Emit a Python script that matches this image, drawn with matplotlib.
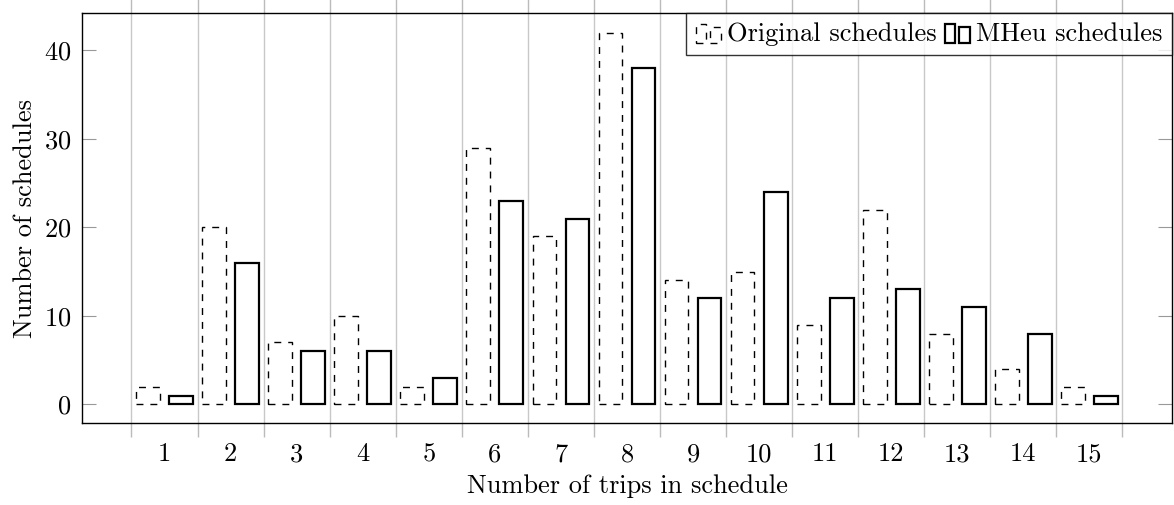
import matplotlib
matplotlib.use('Agg')
import matplotlib.pyplot as plt
import matplotlib.patches as mpatches
from matplotlib.legend_handler import HandlerBase
import numpy as np

trips = list(range(1, 16))
original = [2, 20, 7, 10, 2, 29, 19, 42, 14, 15, 9, 22, 8, 4, 2]
mheu = [1, 16, 6, 6, 3, 23, 21, 38, 12, 24, 12, 13, 11, 8, 1]

plt.rcParams['font.family'] = 'serif'
plt.rcParams['font.serif'] = ['cmr10']
plt.rcParams['axes.formatter.use_mathtext'] = True
plt.rcParams['font.size'] = 19


class BarGlyph(HandlerBase):
    # pgfplots style legend image: two small bars
    def create_artists(self, legend, orig, xd, yd, w, h, fontsize, trans):
        ls = orig.get_linestyle()
        lw = orig.get_linewidth()
        bw = w * 0.4
        a = mpatches.Rectangle((xd, yd - h * 0.1), bw, h * 1.05, fill=False, ec='black',
                               ls=ls, lw=lw, transform=trans)
        b = mpatches.Rectangle((xd + w * 0.55, yd - h * 0.1), bw, h * 0.85, fill=False, ec='black',
                               ls=ls, lw=lw, transform=trans)
        return [a, b]


fig = plt.figure(figsize=(11.74, 5.05), dpi=100)
ax = fig.add_axes([0.0698, 0.1624, 0.9285, 0.8116])

x = np.array(trips)
bw = 0.36
b1 = ax.bar(x - 0.25, original, bw, fill=False, edgecolor='black', linestyle=(0, (5, 5)), linewidth=1.0,
            label='Original schedules')
b2 = ax.bar(x + 0.25, mheu, bw, fill=False, edgecolor='black', linewidth=1.6, label='MHeu schedules')

ax.set_xlim(-0.25, 16.25)
ax.set_ylim(-2.1, 44.2)

ax.set_xticks(x)
ax.set_xticklabels([str(t) for t in trips])
ax.tick_params(axis='x', which='major', length=0, pad=14)
ax.set_xticks(np.arange(0.5, 16, 1), minor=True)
ax.tick_params(axis='x', which='minor', direction='out', length=10, color='#bbbbbb',
               top=True, bottom=True, width=1)
ax.grid(True, axis='x', which='minor', color='#c8c8c8', linewidth=1)

ax.set_yticks([0, 10, 20, 30, 40])
ax.tick_params(axis='y', direction='in', length=10, color='#999999', left=True, right=True, pad=8)

for s in ax.spines.values():
    s.set_linewidth(1.0)

ax.set_xlabel('Number of trips in schedule', labelpad=6)
ax.set_ylabel('Number of schedules', labelpad=5)

leg = ax.legend(handles=[b1.patches[0], b2.patches[0]], labels=['Original schedules', 'MHeu schedules'],
                loc='upper right', ncol=2, frameon=True, fancybox=False, borderaxespad=0,
                handlelength=1.0, handletextpad=0.2, columnspacing=0.3, borderpad=0.35,
                handler_map={mpatches.Rectangle: BarGlyph()})
leg.get_frame().set_edgecolor('black')
leg.get_frame().set_linewidth(1.0)

fig.savefig('out.png', dpi=100)
